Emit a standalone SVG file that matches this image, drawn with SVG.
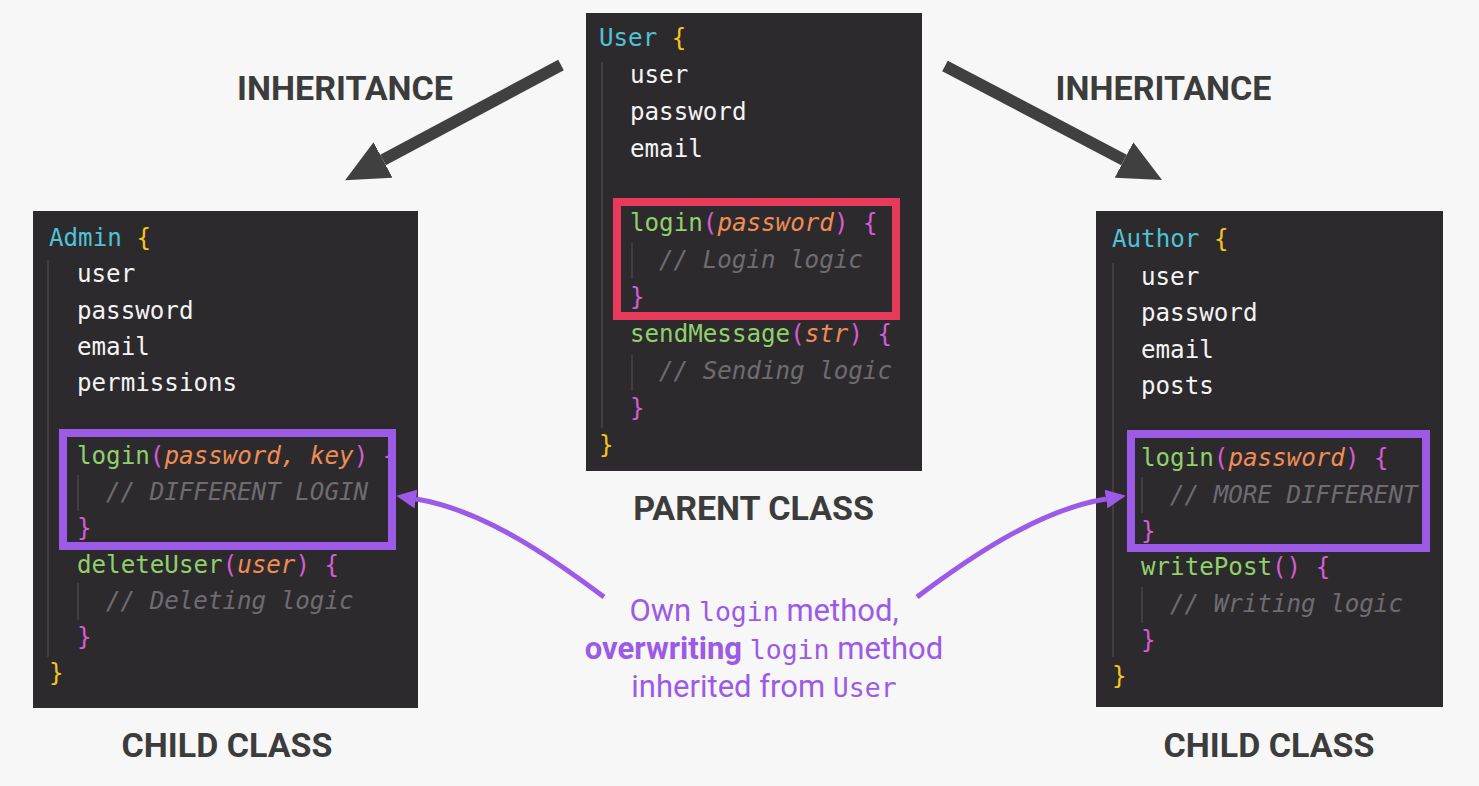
<svg xmlns="http://www.w3.org/2000/svg" width="1479" height="786" viewBox="0 0 1479 786">
<style>
.bg{fill:#2d2a2e}
.code{font-family:"DejaVu Sans Mono","Liberation Mono",monospace;font-size:24.2px}
.cls{fill:#4fc3d6}
.y{fill:#f4c41f}
.w{fill:#f4f4f4}
.fn{fill:#8fd16a}
.p{fill:#d65bd6}
.arg{fill:#f08c54;font-style:italic}
.cm{fill:#6e6c71;font-style:italic}
.guide{stroke:#48454b;stroke-width:1.5}
.hl{fill:none;stroke-width:8}
.title{font-family:Roboto,"Liberation Sans",sans-serif;font-weight:700;font-size:34px;fill:#3c3c3c;text-anchor:middle}
.lbl{font-family:Roboto,"Liberation Sans",sans-serif;font-size:31px;fill:#9c5ae6;text-anchor:middle}
.mono{font-family:"DejaVu Sans Mono","Liberation Mono",monospace;font-size:26.5px}
.b{font-weight:700}
.inh{stroke:#404040;stroke-width:12;fill:none}
.ovr{stroke:#9c5ae6;stroke-width:5;fill:none}
</style>
<defs>
<marker id="ahGray" markerUnits="userSpaceOnUse" viewBox="0 0 43 40" markerWidth="43" markerHeight="40" refX="0" refY="20" orient="auto">
<path d="M0,0 L43,20 L0,40 Z" fill="#404040"/>
</marker>
<marker id="ahPurple" markerUnits="userSpaceOnUse" viewBox="0 0 20 19" markerWidth="20" markerHeight="19" refX="0" refY="9.5" orient="auto">
<path d="M0,0 L20,9.5 L0,19 Z" fill="#9c5ae6"/>
</marker>
</defs>
<rect width="1479" height="786" fill="#f7f7f7"/>

<g id="parent">
<rect class="bg" x="586" y="13" width="336" height="458"/>
<line class="guide" x1="602" y1="62" x2="602" y2="428"/>
<line class="guide" x1="632" y1="243" x2="632" y2="279"/>
<line class="guide" x1="632" y1="355" x2="632" y2="391"/>
<g class="code">
<text x="599" y="46"><tspan class="cls">User</tspan> <tspan class="y">{</tspan></text>
<text x="630" y="83" class="w">user</text>
<text x="630" y="120" class="w">password</text>
<text x="630" y="157" class="w">email</text>
<text x="630" y="231"><tspan class="fn">login</tspan><tspan class="p">(</tspan><tspan class="arg">password</tspan><tspan class="p">) {</tspan></text>
<text x="659" y="268" class="cm">// Login logic</text>
<text x="630" y="305" class="p">}</text>
<text x="630" y="342"><tspan class="fn">sendMessage</tspan><tspan class="p">(</tspan><tspan class="arg">str</tspan><tspan class="p">) {</tspan></text>
<text x="659" y="379" class="cm">// Sending logic</text>
<text x="630" y="416" class="p">}</text>
<text x="599" y="453" class="y">}</text>
</g>
<rect class="hl" x="617" y="202" width="279" height="114" stroke="#e83a5a"/>
</g>

<g id="admin">
<rect class="bg" x="33" y="211" width="385" height="497"/>
<line class="guide" x1="48" y1="260" x2="48" y2="657"/>
<line class="guide" x1="78" y1="475" x2="78" y2="511"/>
<line class="guide" x1="78" y1="583" x2="78" y2="620"/>
<g class="code">
<text x="49" y="246"><tspan class="cls">Admin</tspan> <tspan class="y">{</tspan></text>
<text x="77" y="282" class="w">user</text>
<text x="77" y="318.5" class="w">password</text>
<text x="77" y="355" class="w">email</text>
<text x="77" y="391" class="w">permissions</text>
<text x="77" y="463.5"><tspan class="fn">login</tspan><tspan class="p">(</tspan><tspan class="arg">password</tspan><tspan class="arg" fill="#8a878c">,</tspan><tspan class="arg"> key</tspan><tspan class="p">) {</tspan></text>
<text x="106" y="500" class="cm">// DIFFERENT LOGIN</text>
<text x="77" y="536" class="p">}</text>
<text x="77" y="572.5"><tspan class="fn">deleteUser</tspan><tspan class="p">(</tspan><tspan class="arg">user</tspan><tspan class="p">) {</tspan></text>
<text x="106" y="609" class="cm">// Deleting logic</text>
<text x="77" y="645" class="p">}</text>
<text x="49" y="681" class="y">}</text>
</g>
<rect class="hl" x="63" y="433" width="329" height="113" stroke="#9c5ae6"/>
</g>

<g id="author">
<rect class="bg" x="1096" y="211" width="347" height="496"/>
<line class="guide" x1="1113" y1="263" x2="1113" y2="657"/>
<line class="guide" x1="1142" y1="477" x2="1142" y2="513"/>
<line class="guide" x1="1142" y1="587" x2="1142" y2="623"/>
<g class="code">
<text x="1112" y="247"><tspan class="cls">Author</tspan> <tspan class="y">{</tspan></text>
<text x="1141" y="284.5" class="w">user</text>
<text x="1141" y="321" class="w">password</text>
<text x="1141" y="357.5" class="w">email</text>
<text x="1141" y="393.5" class="w">posts</text>
<text x="1141" y="466"><tspan class="fn">login</tspan><tspan class="p">(</tspan><tspan class="arg">password</tspan><tspan class="p">) {</tspan></text>
<text x="1170" y="502.5" class="cm">// MORE DIFFERENT</text>
<text x="1141" y="538.5" class="p">}</text>
<text x="1141" y="575"><tspan class="fn">writePost</tspan><tspan class="p">() {</tspan></text>
<text x="1170" y="611.5" class="cm">// Writing logic</text>
<text x="1141" y="647.5" class="p">}</text>
<text x="1112" y="683.5" class="y">}</text>
</g>
<rect class="hl" x="1131" y="434" width="295" height="114" stroke="#9c5ae6"/>
</g>

<g id="titles">
<text class="title" x="345" y="100">INHERITANCE</text>
<text class="title" x="1163.5" y="100">INHERITANCE</text>
<text class="title" x="753.5" y="520">PARENT CLASS</text>
<text class="title" x="227" y="757">CHILD CLASS</text>
<text class="title" x="1269" y="757">CHILD CLASS</text>
</g>

<g id="note">
<text class="lbl" x="764" y="621">Own <tspan class="mono">login</tspan> method,</text>
<text class="lbl" x="764" y="659"><tspan class="b">overwriting</tspan> <tspan class="mono">login</tspan> method</text>
<text class="lbl" x="764" y="697">inherited from <tspan class="mono">User</tspan></text>
</g>

<g id="connectors">
<line class="inh" x1="561" y1="65" x2="383" y2="160" marker-end="url(#ahGray)"/>
<line class="inh" x1="945" y1="66" x2="1124" y2="160" marker-end="url(#ahGray)"/>
<path class="ovr" d="M604,597 C556,561 485,510 416,499" marker-end="url(#ahPurple)"/>
<path class="ovr" d="M917,597 C965,561 1037,510 1106,499" marker-end="url(#ahPurple)"/>
</g>
</svg>
